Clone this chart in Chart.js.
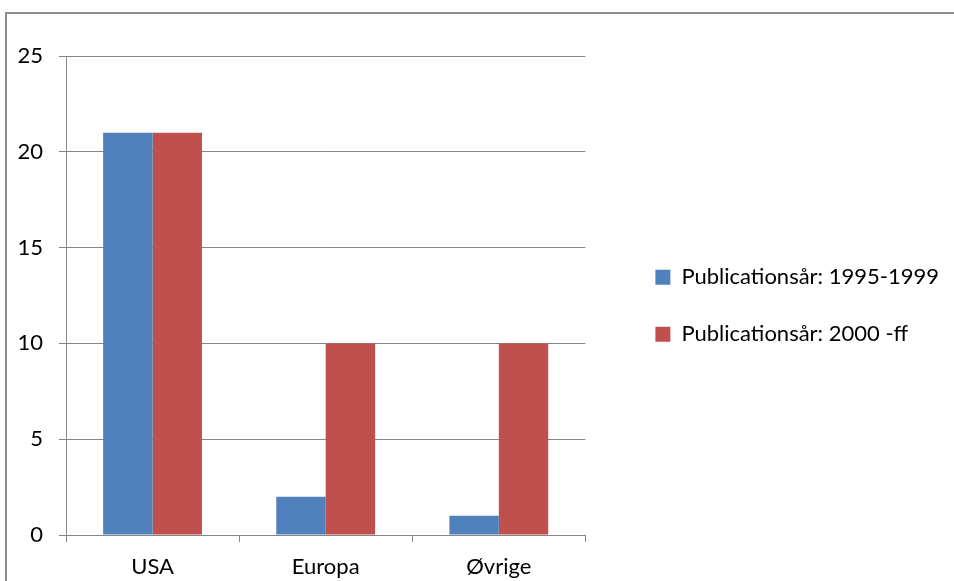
<!DOCTYPE html>
<html>
<head>
<meta charset="utf-8">
<script src="https://cdn.jsdelivr.net/npm/chart.js@4.4.0/dist/chart.umd.min.js"></script>
<style>
  html, body { margin: 0; padding: 0; width: 954px; height: 581px; overflow: hidden; background: #fff; }
  #frame { position: absolute; left: 5px; top: 12px; width: 1100px; height: 800px; border: 2px solid #8c8c8c; }
  #wrap { position: absolute; left: 0; top: 0; width: 954px; height: 581px; }
</style>
</head>
<body>
<div id="frame"></div>
<div id="wrap"><canvas id="chart"></canvas></div>
<script>
// categories and series
const categories = ['USA', 'Europa', 'Øvrige'];
const series1995 = [21, 2, 1];
const series2000 = [21, 10, 10];
const seriesNames = ['Publicationsår: 1995-1999', 'Publicationsår: 2000 -ff'];
const yTicks = [0, 5, 10, 15, 20, 25];

const gridColor = '#868686';
const font = { family: 'Lato, "Open Sans", sans-serif', size: 22 };

const ctx = document.getElementById('chart').getContext('2d');
new Chart(ctx, {
    type: 'bar',
    data: {
        labels: categories,
        datasets: [
            { label: seriesNames[0], data: series1995, backgroundColor: '#4F81BD' },
            { label: seriesNames[1], data: series2000, backgroundColor: '#C0504D' }
        ]
    },
    options: {
        responsive: true,
        maintainAspectRatio: false,
        animation: false,
        events: [],
        layout: { padding: { top: 56, left: 0, right: 5, bottom: 0 } },
        datasets: { bar: { categoryPercentage: 0.571, barPercentage: 1.0 } },
        plugins: {
            tooltip: { enabled: false },
            legend: {
                position: 'right',
                fullSize: false,
                maxWidth: 400,
                // blank title just nudges the items down a little
                title: { display: true, text: ' ', font: { size: 17 } },
                labels: {
                    color: '#000',
                    font: font,
                    boxWidth: 15,
                    boxHeight: 15,
                    padding: 35
                }
            }
        },
        scales: {
            x: {
                offset: true,
                grid: { drawOnChartArea: false, color: gridColor, tickLength: 7, offset: true },
                border: { color: gridColor },
                ticks: { color: '#000', font: font, padding: 12 },
                afterFit: s => { s.height = 46; }
            },
            y: {
                min: 0,
                max: 25,
                afterBuildTicks: s => { s.ticks = yTicks.map(v => ({ value: v })); },
                grid: { color: gridColor, tickLength: 7 },
                border: { color: gridColor },
                ticks: { color: '#000', font: font, padding: 16 },
                afterFit: s => { s.width = 66; }
            },
            // empty spacer between plot and legend
            spacer: {
                type: 'linear',
                position: 'right',
                display: true,
                grid: { display: false, drawTicks: false },
                border: { display: false },
                ticks: { display: false },
                afterFit: s => { s.width = 35; }
            }
        }
    }
});
</script>
</body>
</html>
